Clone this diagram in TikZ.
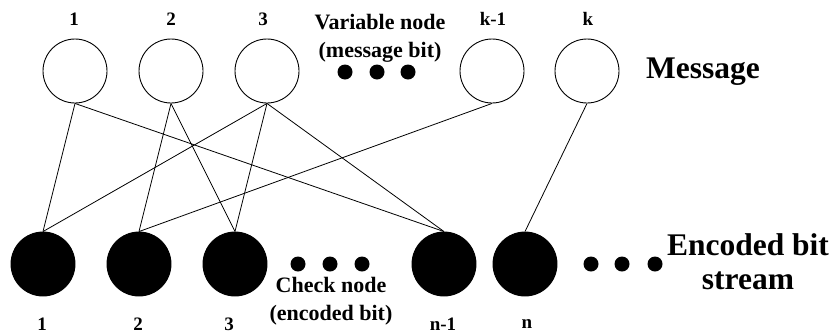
\documentclass[tikz,border=0pt]{standalone}
\usepackage{fontspec}
\setmainfont{Liberation Serif}
\begin{document}
\begin{tikzpicture}[x=1pt,y=-1pt,
  varnode/.style={circle,draw=black,fill=white,line width=0.9pt,minimum size=64pt,inner sep=0pt},
  chknode/.style={circle,draw=black,fill=black,line width=0.9pt,minimum size=64pt,inner sep=0pt},
  dotnode/.style={circle,fill=black,minimum size=15pt,inner sep=0pt},
  idx/.style={font=\fontsize{19}{22}\selectfont\bfseries,inner sep=0pt},
  note/.style={font=\fontsize{22}{28}\selectfont\bfseries,align=center,inner sep=0pt},
  title/.style={font=\fontsize{31.5}{34}\selectfont\bfseries,align=center,inner sep=0pt},
  edge/.style={line width=0.8pt}]
\useasboundingbox (0,0) rectangle (833,333);

% variable nodes (message bits)
\node[varnode] (v1) at (75,71) {};
\node[varnode] (v2) at (171,71) {};
\node[varnode] (v3) at (267,71) {};
\node[varnode] (vk1) at (492,71) {};
\node[varnode] (vk) at (587,71) {};

% check nodes (encoded bits)
\node[chknode] (c1) at (43,264) {};
\node[chknode] (c2) at (139,264) {};
\node[chknode] (c3) at (235,264) {};
\node[chknode] (cn1) at (444,264) {};
\node[chknode] (cn) at (525,264) {};

% connections between the two layers
\draw[edge] (v1.south) -- (c1.north);
\draw[edge] (v1.south) -- (cn1.north);
\draw[edge] (v2.south) -- (c2.north);
\draw[edge] (v2.south) -- (c3.north);
\draw[edge] (v3.south) -- (c1.north);
\draw[edge] (v3.south) -- (c3.north);
\draw[edge] (v3.south) -- (cn1.north);
\draw[edge] (vk1.south) -- (c2.north);
\draw[edge] (vk.south) -- (cn.north);

% ellipsis dots
\node[dotnode] (td1) at (345,72) {};
\node[dotnode] (td2) at (377,72) {};
\node[dotnode] (td3) at (408,72) {};
\node[dotnode] (bd1) at (298,264) {};
\node[dotnode] (bd2) at (330,264) {};
\node[dotnode] (bd3) at (362,264) {};
\node[dotnode] (rd1) at (591,264) {};
\node[dotnode] (rd2) at (622,264) {};
\node[dotnode] (rd3) at (655,264) {};

% indices
\node[idx] (l1) at (74,19) {1};
\node[idx] (l2) at (171,19) {2};
\node[idx] (l3) at (263,19) {3};
\node[idx] (lk1) at (493,19) {k-1};
\node[idx] (lk) at (588,19) {k};
\node[idx] (b1) at (42,324) {1};
\node[idx] (b2) at (138,324) {2};
\node[idx] (b3) at (229,324) {3};
\node[idx] (bn1) at (443,324) {n-1};
\node[idx] (bn) at (527,324) {n};

% descriptions
\node[note] (vnote) at (380,38.5) {Variable node\\(message bit)};
\node[note] (cnote) at (331,301) {Check node\\(encoded bit)};
\node[title] (msg) at (703,72) {Message};
\node[title] (enc) at (748,262) {Encoded bit\\stream};
\end{tikzpicture}
\end{document}
